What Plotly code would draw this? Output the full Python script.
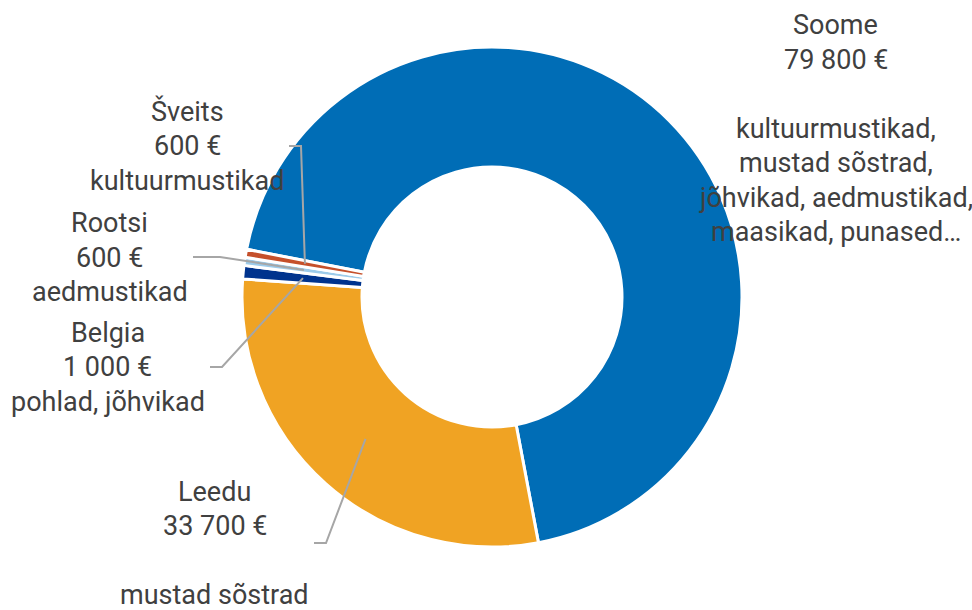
import numpy as np
import plotly.graph_objects as go

# data
countries = ["Soome", "Leedu", "Belgia", "Rootsi", "Šveits"]
values = [79800, 33700, 1000, 600, 600]
products = [
    ["kultuurmustikad,", "mustad sõstrad,", "jõhvikad, aedmustikad,", "maasikad, punased…"],
    ["mustad sõstrad"],
    ["pohlad, jõhvikad"],
    ["aedmustikad"],
    ["kultuurmustikad"],
]
colors = ["#006DB6", "#F0A323", "#00338D", "#9CCBEA", "#C5502B"]

W, H = 972, 610
CX, CY, R = 492, 297, 250
HOLE = 0.52
ROTATION = 281
FONT = "Roboto, sans-serif"
FONT_SIZE = 27
LINE = 34.5
TEXT_COLOR = "#404040"
LINE_COLOR = "#A6A6A6"

# label placement in pixels: centre x, first line y, blank line before products, leader elbow
label_pos = {
    "Soome": dict(x=835.5, y=25.3, gap=True, leader=None),
    "Leedu": dict(x=214.5, y=491.7, gap=True, leader=[(314, 543), (326, 543)]),
    "Belgia": dict(x=107.5, y=333, gap=False, leader=[(210, 367), (222, 367)]),
    "Rootsi": dict(x=109.7, y=223, gap=False, leader=[(193, 257), (220, 257)]),
    "Šveits": dict(x=187, y=111.5, gap=False, leader=[(289, 146), (301, 146)]),
}


def px(x, y):
    return x / W, 1 - y / H


def fmt_eur(v):
    return f"{v:,}".replace(",", " ") + " €"


fig = go.Figure()
fig.add_trace(go.Pie(
    labels=countries, values=values,
    hole=HOLE, sort=False, direction="clockwise", rotation=ROTATION,
    marker=dict(colors=colors, line=dict(color="white", width=3)),
    textinfo="none", hoverinfo="label+value",
    domain=dict(x=[(CX - R) / W, (CX + R) / W], y=[1 - (CY + R) / H, 1 - (CY - R) / H]),
    showlegend=False,
))

# mid angles of slices (clockwise from 12 o'clock), for leader line ends
total = sum(values)
cum = np.cumsum([0] + values)
mid_angles = [ROTATION + 360 * (cum[i] + values[i] / 2) / total for i in range(len(values))]

annotations, shapes = [], []
for name, v, prod, ang in zip(countries, values, products, mid_angles):
    p = label_pos[name]
    lines = [name, fmt_eur(v)] + ([""] if p["gap"] else []) + prod
    for i, line in enumerate(lines):
        if not line:
            continue
        ax, ay = px(p["x"], p["y"] + i * LINE)
        annotations.append(dict(
            x=ax, y=ay, xref="paper", yref="paper", xanchor="center", yanchor="middle",
            text=line, showarrow=False, align="center",
            font=dict(family=FONT, size=FONT_SIZE, color=TEXT_COLOR),
        ))
    if p["leader"]:
        a = np.radians(ang)
        rr = R * 0.76
        end = (CX + rr * np.sin(a), CY - rr * np.cos(a))
        pts = [px(*q) for q in p["leader"] + [end]]
        path = "M " + " L ".join(f"{x:.5f},{y:.5f}" for x, y in pts)
        shapes.append(dict(type="path", path=path, xref="paper", yref="paper",
                           line=dict(color=LINE_COLOR, width=2)))

fig.update_layout(
    width=W, height=H,
    margin=dict(l=0, r=0, t=0, b=0),
    paper_bgcolor="white", plot_bgcolor="white",
    annotations=annotations, shapes=shapes,
)

fig.write_html("out.html", config={"displayModeBar": False},
               post_script="document.body.style.margin='0px';")
